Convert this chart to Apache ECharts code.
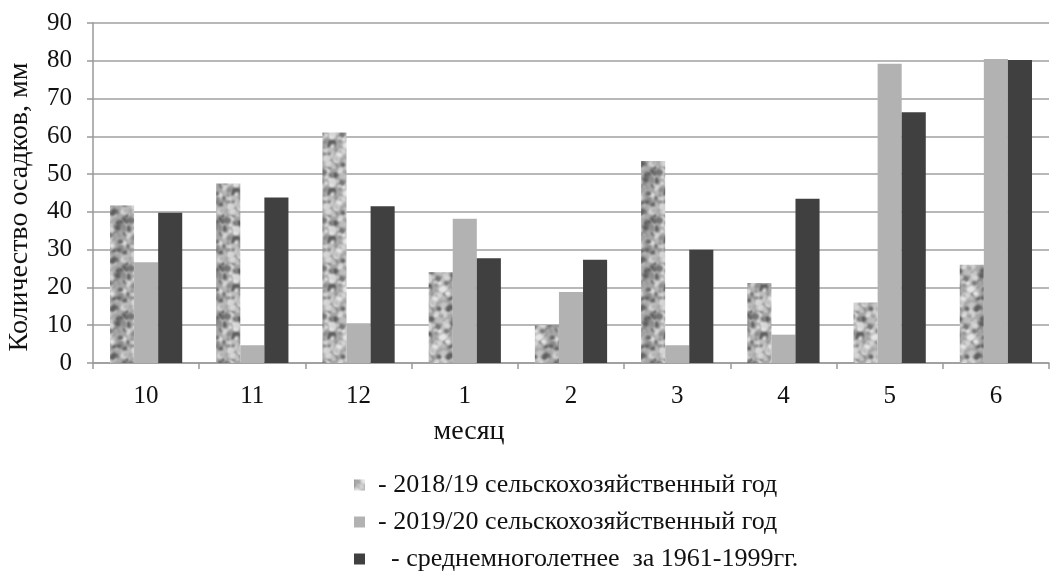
<!DOCTYPE html>
<html>
<head>
<meta charset="utf-8">
<script src="https://cdn.jsdelivr.net/npm/echarts@6/dist/echarts.min.js"></script>
<style>
  html, body { margin: 0; padding: 0; background: #fff; }
  #chart { width: 1054px; height: 571px; }
</style>
</head>
<body>
<div id="chart"></div>
<script>
// Monthly precipitation, mm (agricultural year October–June)
const months = ['10', '11', '12', '1', '2', '3', '4', '5', '6'];
const year2018 = [41.7, 47.5, 61.0, 24.0, 10.0, 53.5, 21.2, 16.0, 26.0];
const year2019 = [26.7, 4.7, 10.5, 38.2, 18.8, 4.7, 7.5, 79.2, 80.5];
const longTermMean = [39.8, 43.8, 41.5, 27.7, 27.3, 30.0, 43.5, 66.4, 80.2];
const seriesNames = [
  '- 2018/19 сельскохозяйственный год',
  '- 2019/20 сельскохозяйственный год',
  '  - среднемноголетнее  за 1961-1999гг.'
];
const yAxisTitle = 'Количество осадков, мм';
const xAxisTitle = 'месяц';

// Mottled grey texture for the first series (seeded so it is stable between renders)
function makeMottle() {
  const size = 48;
  const c = document.createElement('canvas');
  c.width = size; c.height = size;
  const ctx = c.getContext('2d');
  ctx.fillStyle = '#a8a8a8';
  ctx.fillRect(0, 0, size, size);
  let seed = 12345;
  const rnd = () => { seed = (seed * 1103515245 + 12345) & 0x7fffffff; return seed / 0x7fffffff; };
  ctx.filter = 'blur(1px)';
  const tones = ['#5e5e5e', '#747474', '#d6d6d6', '#c8c8c8', '#8c8c8c', '#e6e6e6', '#bdbdbd'];
  for (let i = 0; i < 150; i++) {
    const x = rnd() * size, y = rnd() * size, r = 1 + rnd() * 2.6;
    ctx.fillStyle = tones[Math.floor(rnd() * tones.length)];
    const ry = r * (0.6 + rnd() * 0.8), rot = rnd() * Math.PI;
    for (const dx of [-size, 0, size]) {
      for (const dy of [-size, 0, size]) {
        ctx.beginPath();
        ctx.ellipse(x + dx, y + dy, r, ry, rot, 0, Math.PI * 2);
        ctx.fill();
      }
    }
  }
  return c;
}

const serif = '"Liberation Serif", "DejaVu Serif", serif';
const chart = echarts.init(document.getElementById('chart'), null, { renderer: 'canvas' });
const mottle = { image: makeMottle(), repeat: 'repeat' };
const axisGrey = '#999999';

chart.setOption({
  animation: false,
  backgroundColor: '#fff',
  textStyle: { fontFamily: serif },
  grid: { left: 93, right: 5, top: 23, bottom: 208, containLabel: false },
  legend: {
    orient: 'vertical',
    left: 354,
    top: 472,
    height: 130,
    padding: 0,
    itemWidth: 11,
    itemHeight: 11,
    itemGap: 11,
    icon: 'rect',
    textStyle: { fontFamily: serif, fontSize: 26, lineHeight: 26, color: '#111', padding: [0, 0, 0, 8] },
    data: seriesNames
  },
  graphic: [
    {
      type: 'text', x: 20, y: 207, rotation: Math.PI / 2,
      style: { text: yAxisTitle, font: '28px ' + serif, fill: '#111', align: 'center', verticalAlign: 'middle' }
    },
    {
      type: 'text', x: 469, y: 432,
      style: { text: xAxisTitle, font: '28px ' + serif, fill: '#111', align: 'center', verticalAlign: 'middle' }
    }
  ],
  xAxis: {
    type: 'category',
    data: months,
    axisLine: { lineStyle: { color: axisGrey, width: 1.5 } },
    axisTick: { show: true, length: 6, lineStyle: { color: axisGrey, width: 1.5 } },
    axisLabel: { fontFamily: serif, fontSize: 25, color: '#111', margin: 21 }
  },
  yAxis: {
    type: 'value',
    min: 0,
    max: 90,
    interval: 10,
    axisLine: { show: true, lineStyle: { color: axisGrey, width: 1.5 } },
    axisTick: { show: true, length: 6, lineStyle: { color: axisGrey, width: 1.5 } },
    axisLabel: { fontFamily: serif, fontSize: 25, color: '#111', margin: 21 },
    splitLine: { lineStyle: { color: '#a0a0a0', width: 1.5 } }
  },
  series: [
    { name: seriesNames[0], type: 'bar', data: year2018, barGap: '0%', barCategoryGap: '32%',
      itemStyle: { color: mottle } },
    { name: seriesNames[1], type: 'bar', data: year2019, barGap: '0%', barCategoryGap: '32%',
      itemStyle: { color: '#b2b2b2' } },
    { name: seriesNames[2], type: 'bar', data: longTermMean, barGap: '0%', barCategoryGap: '32%',
      itemStyle: { color: '#404040' } }
  ]
});
</script>
</body>
</html>
